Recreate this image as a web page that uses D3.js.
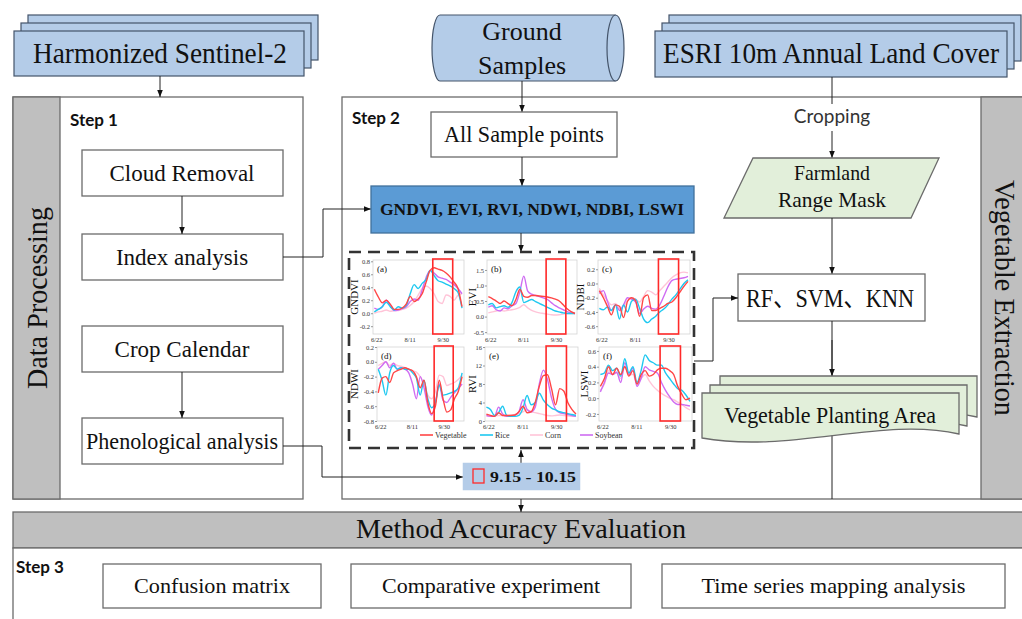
<html>
<head>
<script src="https://d3js.org/d3.v7.min.js"></script>
<style>
body { margin: 0; background: #fff; }
svg text { font-family: "Liberation Serif", "Times New Roman", "Noto Sans CJK SC", serif; fill: #111; }
svg text.sans { font-family: Lato, "Open Sans", sans-serif; }
.step { font-weight: bold; font-size: 17px; }
</style>
</head>
<body>
<svg id="chart" width="1022" height="619"></svg>
<script>
// sample dates (day of year), every 6 days from 6/19 to 10/29
const dates = [170,176,182,188,194,200,206,212,218,224,230,236,242,248,254,260,266,272,278,284,290,296,302];
const tickDates = [173, 223, 273];
const tickLabels = ["6/22", "8/11", "9/30"];
const windowDays = [258, 288]; // 9.15 - 10.15
const crops = ["Vegetable", "Rice", "Corn", "Soybean"];

// series in crop order: Vegetable, Rice, Corn, Soybean
const gndvi = [
  [0.37,0.25,0.16,0.20,0.14,0.06,0.06,0.08,0.14,0.26,0.18,0.22,0.30,0.48,0.66,0.70,0.68,0.66,0.62,0.56,0.48,0.38,0.10],
  [0.02,0.06,0.10,0.17,0.10,0.05,0.10,0.08,0.12,0.30,0.44,0.38,0.46,0.52,0.66,0.58,0.50,0.48,0.45,0.42,0.38,0.32,0.08],
  [0.00,0.02,0.03,0.05,0.03,0.04,0.04,0.06,0.08,0.12,0.18,0.28,0.38,0.42,0.38,0.30,0.18,0.15,0.28,0.26,0.20,0.28,0.30],
  [0.08,0.06,0.10,0.20,0.12,0.04,0.05,0.07,0.10,0.18,0.22,0.20,0.36,0.55,0.66,0.62,0.56,0.54,0.52,0.48,0.44,0.38,0.30]
];
const evi = [
  [0.64,0.58,0.50,0.42,0.50,0.42,0.35,0.55,0.88,0.65,0.62,0.68,0.68,0.66,0.65,0.63,0.60,0.56,0.50,0.38,0.25,0.16,0.10],
  [0.38,0.42,0.28,0.32,0.35,0.30,0.45,0.80,0.95,0.45,0.50,0.55,0.48,0.42,0.36,0.30,0.24,0.18,0.15,0.12,0.10,0.10,0.10],
  [0.12,0.15,0.18,0.20,0.18,0.20,0.22,0.25,0.30,0.38,0.28,0.20,0.15,0.12,0.10,0.08,0.06,0.05,0.06,0.08,0.10,0.10,0.10],
  [0.30,0.35,0.22,0.18,0.28,0.25,0.35,0.42,0.80,1.30,0.82,0.72,0.68,0.64,0.60,0.55,0.45,0.35,0.28,0.22,0.16,0.12,0.10]
];
const ndbi = [
  [-0.10,-0.20,-0.32,-0.44,-0.30,-0.32,-0.48,-0.25,-0.20,-0.24,-0.46,-0.20,-0.16,-0.38,-0.38,-0.35,-0.32,-0.28,-0.26,-0.20,-0.12,-0.04,0.03],
  [-0.35,-0.37,-0.33,-0.38,-0.30,-0.50,-0.30,-0.40,-0.25,-0.22,-0.35,-0.50,-0.55,-0.50,-0.46,-0.40,-0.36,-0.30,-0.22,-0.16,-0.08,0.00,0.05],
  [-0.07,-0.16,-0.24,-0.30,-0.28,-0.36,-0.32,-0.24,-0.20,-0.22,-0.26,-0.18,-0.10,-0.12,-0.16,-0.10,-0.04,0.02,0.08,0.12,0.15,0.16,0.15],
  [-0.14,-0.10,-0.25,-0.38,-0.30,-0.38,-0.30,-0.20,-0.22,-0.26,-0.42,-0.36,-0.32,-0.35,-0.36,-0.30,-0.18,-0.05,0.04,0.06,0.07,0.08,0.10]
];
const ndwi = [
  [-0.42,-0.22,-0.20,-0.28,-0.15,-0.12,-0.10,-0.08,-0.10,-0.12,-0.20,-0.35,-0.25,-0.55,-0.70,-0.60,-0.25,-0.50,-0.68,-0.65,-0.50,-0.40,-0.20],
  [-0.10,-0.25,-0.45,-0.15,-0.05,-0.10,-0.08,-0.10,-0.10,-0.15,-0.22,-0.45,-0.25,-0.50,-0.62,-0.55,-0.32,-0.45,-0.44,-0.42,-0.40,-0.35,-0.15],
  [-0.05,-0.02,0.00,-0.05,-0.02,-0.05,-0.06,-0.08,-0.10,-0.12,-0.14,-0.20,-0.30,-0.45,-0.50,-0.40,-0.18,-0.20,-0.32,-0.30,-0.28,-0.24,-0.18],
  [-0.10,-0.05,0.00,-0.08,-0.02,-0.10,-0.08,-0.10,-0.15,-0.30,-0.50,-0.20,-0.35,-0.60,-0.72,-0.55,-0.30,-0.52,-0.55,-0.48,-0.42,-0.36,-0.30]
];
const rvi = [
  [1.5,1.2,1.0,1.8,1.2,1.2,1.2,1.3,2.0,3.2,1.8,2.0,4.0,7.5,9.8,10.0,7.0,3.5,7.0,6.5,4.0,2.5,1.5],
  [3.0,2.5,1.2,1.8,3.2,1.2,1.0,1.0,1.2,2.8,5.5,3.5,4.0,6.0,4.5,3.5,2.8,2.4,2.0,1.8,1.6,1.4,1.2],
  [1.0,1.0,1.1,1.2,1.2,1.2,1.3,1.4,1.6,2.0,2.4,2.0,1.8,1.6,1.4,1.2,1.1,1.2,1.3,1.2,1.1,1.0,1.0],
  [1.2,1.0,1.0,3.0,1.5,1.0,1.0,1.2,2.0,4.6,2.5,2.0,3.0,8.0,11.0,9.0,5.0,2.5,1.8,1.6,1.4,1.2,1.0]
];
const lswi = [
  [0.15,0.25,0.40,0.30,0.38,0.30,0.40,0.28,0.35,0.18,0.30,0.35,0.28,0.30,0.36,0.38,0.38,0.35,0.30,0.15,0.05,-0.02,0.00],
  [0.30,0.32,0.42,0.35,0.38,0.28,0.50,0.32,0.40,0.20,0.35,0.55,0.48,0.45,0.42,0.42,0.32,0.25,0.18,0.12,0.10,0.04,-0.04],
  [0.10,0.18,0.35,0.30,0.32,0.25,0.40,0.30,0.30,0.18,0.25,0.30,0.22,0.15,0.10,0.06,0.03,0.00,-0.02,-0.05,-0.08,-0.12,-0.15],
  [0.08,0.20,0.32,0.30,0.33,0.20,0.45,0.30,0.38,0.15,0.25,0.40,0.36,0.34,0.32,0.20,0.10,0.02,-0.05,-0.08,-0.08,-0.09,-0.10]
];

const gndviTicks = [-0.2, 0, 0.2, 0.4, 0.6, 0.8];
const eviTicks = [-0.5, 0, 0.5, 1.0, 1.5];
const ndbiTicks = [-0.6, -0.4, -0.2, 0, 0.2];
const ndwiTicks = [-0.8, -0.6, -0.4, -0.2, 0, 0.2];
const rviTicks = [0, 4, 8, 12, 16];
const lswiTicks = [-0.2, 0, 0.2, 0.4, 0.6];

const cropColors = ["#ff4646", "#1ec8f0", "#ffc4d8", "#cf6cf2"];
const drawOrder = [2, 3, 1, 0];

const svg = d3.select("#chart");
const defs = svg.append("defs");
defs.append("marker").attr("id", "arr")
  .attr("viewBox", "0 0 10 10").attr("refX", 10).attr("refY", 5)
  .attr("markerWidth", 7).attr("markerHeight", 7).attr("orient", "auto")
  .append("path").attr("d", "M0,1L10,5L0,9z").attr("fill", "#111");

const BLUE = "#b4cce8", GRAY = "#bfbfbf", GREEN = "#e2efda", EDGE = "#6b6b6b";

function rect(x, y, w, h, fill, stroke, sw) {
  return svg.append("rect").attr("x", x).attr("y", y).attr("width", w).attr("height", h)
    .attr("fill", fill).attr("stroke", stroke || EDGE).attr("stroke-width", sw || 1.3);
}
function label(x, y, str, size, len) {
  const t = svg.append("text").attr("x", x).attr("y", y).attr("text-anchor", "middle")
    .attr("font-size", size).text(str);
  if (len) t.attr("textLength", len).attr("lengthAdjust", "spacingAndGlyphs");
  return t;
}
function path(pts, arrow) {
  const p = svg.append("path").attr("d", d3.line()(pts)).attr("fill", "none")
    .attr("stroke", "#222").attr("stroke-width", 1);
  if (arrow) p.attr("marker-end", "url(#arr)");
  return p;
}
function stack(x, y, w, h, fill) {
  for (let i = 2; i >= 0; i--) rect(x + 7 * i, y - 8 * i, w, h, fill, "#44546a", 1.2);
}

// ---------- top sources ----------
stack(14, 31, 290, 45, BLUE);
label(160, 63, "Harmonized Sentinel-2", 29, 254);
stack(655, 31, 352, 46, BLUE);
label(831, 63, "ESRI 10m Annual Land Cover", 29, 336);

// ground samples cylinder
{
  const x0 = 432, x1 = 624, y0 = 15, y1 = 81, rx = 8.5, ry = (y1 - y0) / 2;
  svg.append("path")
    .attr("d", `M${x0 + 8},${y0} L${x1 - rx},${y0} A${rx},${ry} 0 0 1 ${x1 - rx},${y1} L${x0 + 8},${y1} A8,${ry} 0 0 1 ${x0 + 8},${y0} Z`)
    .attr("fill", BLUE).attr("stroke", "#44546a").attr("stroke-width", 1.2);
  svg.append("path")
    .attr("d", `M${x1 - rx},${y0} A${rx},${ry} 0 0 0 ${x1 - rx},${y1}`)
    .attr("fill", "none").attr("stroke", "#44546a").attr("stroke-width", 1.2);
  label(522, 40, "Ground", 26);
  label(522, 74, "Samples", 26);
}

// ---------- step frames ----------
rect(13, 97, 290, 402, "#fff");
rect(13, 97, 47, 402, GRAY);
rect(342, 97, 700, 402, "#fff");
rect(981, 97, 60, 402, GRAY);
rect(13, 512, 1030, 36, GRAY);
rect(13, 548, 1030, 90, "#fff");

svg.append("text").attr("transform", "translate(47,298) rotate(-90)")
  .attr("text-anchor", "middle").attr("font-size", 30).attr("textLength", 182)
  .attr("lengthAdjust", "spacingAndGlyphs").text("Data Processing");
svg.append("text").attr("transform", "translate(995,298) rotate(90)")
  .attr("text-anchor", "middle").attr("font-size", 29).attr("textLength", 236)
  .attr("lengthAdjust", "spacingAndGlyphs").text("Vegetable Extraction");

svg.append("text").attr("class", "sans step").attr("x", 70).attr("y", 126).text("Step 1");
svg.append("text").attr("class", "sans step").attr("x", 352).attr("y", 124).text("Step 2");
svg.append("text").attr("class", "sans step").attr("x", 16).attr("y", 573).text("Step 3");

// ---------- step 1 ----------
const step1 = ["Cloud Removal", "Index analysis", "Crop Calendar", "Phenological analysis"];
const step1Y = [150, 234, 326, 418];
step1.forEach((s, i) => {
  rect(82, step1Y[i], 201, 46, "#fff");
  label(182, step1Y[i] + 31, s, 23, s.length > 15 ? 192 : null);
});
path([[182, 196], [182, 234]], true);
path([[182, 372], [182, 418]], true);
path([[283, 257], [323, 257], [323, 209], [371, 209]], true);
path([[283, 446], [322, 446], [322, 477], [463, 477]], true);

// ---------- step 2 ----------
path([[160, 76], [160, 97]], true);
path([[522, 81], [522, 112]], true);
rect(431, 112, 186, 45, "#fff");
label(524, 142, "All Sample points", 23, 160);
path([[522, 157], [522, 186]], true);
rect(371, 186, 323, 47, "#5b9bd5", "#41719c");
label(532, 215, "GNDVI, EVI, RVI, NDWI, NDBI, LSWI", 16, 304).attr("font-weight", "bold");
path([[521, 233], [521, 252]], true);

// cropping / right column
path([[832, 77], [832, 104]]);
svg.append("text").attr("class", "sans").attr("x", 832).attr("y", 123).attr("text-anchor", "middle")
  .attr("font-size", 19).style("fill", "#333").text("Cropping");
path([[832, 131], [832, 158]], true);
svg.append("path").attr("d", "M753,158L939,158L911,218L724,218Z")
  .attr("fill", GREEN).attr("stroke", EDGE).attr("stroke-width", 1.3);
label(832, 180, "Farmland", 22, 76);
label(832, 207, "Range Mask", 22, 108);
path([[832, 218], [832, 274]], true);
rect(738, 274, 187, 47, "#fff");
label(830, 307, "RF、SVM、KNN", 26, 168);
path([[832, 321], [832, 499]]);
path([[832, 340], [832, 376]], true);

// multi-document shape
function doc(x, y, w, h) {
  const b = y + h;
  return `M${x},${y}L${x + w},${y}L${x + w},${b - 4}C${x + w * 0.7},${b - 22} ${x + w * 0.35},${b + 16} ${x},${b}Z`;
}
[[720, 376], [710, 385], [702, 393]].forEach(([x, y]) => {
  svg.append("path").attr("d", doc(x, y, 257, 45)).attr("fill", GREEN)
    .attr("stroke", EDGE).attr("stroke-width", 1.3);
});
label(830, 423, "Vegetable Planting Area", 24, 212);

// dashed panel box
svg.append("rect").attr("x", 349).attr("y", 252).attr("width", 345).attr("height", 196)
  .attr("fill", "#fff").attr("stroke", "#333").attr("stroke-width", 2.6)
  .attr("stroke-dasharray", "12,7");
path([[694, 361], [713, 361], [713, 298], [738, 298]], true);

// ---------- index panels ----------
const panels = [
  { name: "GNDVI", tag: "(a)", data: gndvi, ticks: gndviTicks, dom: [-0.32, 0.82], x0: 373, x1: 464, y0: 260, y1: 334, tx: 358 },
  { name: "EVI",   tag: "(b)", data: evi,   ticks: eviTicks,   dom: [-0.56, 1.82], x0: 487, x1: 577, y0: 260, y1: 334, tx: 476 },
  { name: "NDBI",  tag: "(c)", data: ndbi,  ticks: ndbiTicks,  dom: [-0.71, 0.33], x0: 598, x1: 690, y0: 260, y1: 334, tx: 584 },
  { name: "NDWI",  tag: "(d)", data: ndwi,  ticks: ndwiTicks,  dom: [-0.8, 0.2],   x0: 377, x1: 464, y0: 347, y1: 421, tx: 358 },
  { name: "RVI",   tag: "(e)", data: rvi,   ticks: rviTicks,   dom: [0, 16],       x0: 485, x1: 578, y0: 347, y1: 421, tx: 476 },
  { name: "LSWI",  tag: "(f)", data: lswi,  ticks: lswiTicks,  dom: [-0.29, 0.65], x0: 599, x1: 692, y0: 347, y1: 421, tx: 588 }
];

panels.forEach(p => {
  const g = svg.append("g");
  const x = d3.scaleLinear().domain([168, 305]).range([p.x0, p.x1]);
  const y = d3.scaleLinear().domain(p.dom).range([p.y1, p.y0]);
  g.append("rect").attr("x", p.x0).attr("y", p.y0).attr("width", p.x1 - p.x0).attr("height", p.y1 - p.y0)
    .attr("fill", "#fff").attr("stroke", "#d4d4d4").attr("stroke-width", 0.8);

  const fmt = p.name === "RVI" ? d3.format("d") : (v => v.toFixed(1));
  const ya = g.append("g").attr("transform", `translate(${p.x0},0)`)
    .call(d3.axisLeft(y).tickValues(p.ticks).tickSize(2).tickPadding(1).tickFormat(fmt));
  ya.select(".domain").remove();
  ya.selectAll("line").attr("stroke", "#999");
  ya.selectAll("text").attr("font-size", 6.5).style("fill", "#333");

  const xa = g.append("g").attr("transform", `translate(0,${p.y1})`)
    .call(d3.axisBottom(x).tickValues(tickDates).tickSize(0).tickPadding(3)
      .tickFormat((d, i) => tickLabels[i]));
  xa.select(".domain").remove();
  xa.selectAll("text").attr("font-size", 6.5).style("fill", "#333");

  const line = d3.line().x((d, i) => x(dates[i])).y(d => y(d)).curve(d3.curveMonotoneX);
  drawOrder.forEach(ci => {
    g.append("path").datum(p.data[ci]).attr("d", line).attr("fill", "none")
      .attr("stroke", cropColors[ci]).attr("stroke-width", 1.4);
  });

  g.append("rect").attr("x", x(windowDays[0])).attr("y", p.y0 - 1)
    .attr("width", x(windowDays[1]) - x(windowDays[0])).attr("height", p.y1 - p.y0 + 1)
    .attr("fill", "none").attr("stroke", "#ff2a2a").attr("stroke-width", 1.6);

  g.append("text").attr("x", p.x0 + 4).attr("y", p.y0 + 12).attr("font-size", 9).text(p.tag);
  g.append("text").attr("transform", `translate(${p.tx},${(p.y0 + p.y1) / 2}) rotate(-90)`)
    .attr("text-anchor", "middle").attr("font-size", 11).text(p.name);
});

// legend
const legendX = [420, 480, 530, 580];
crops.forEach((c, i) => {
  svg.append("line").attr("x1", legendX[i]).attr("x2", legendX[i] + 13).attr("y1", 435).attr("y2", 435)
    .attr("stroke", cropColors[i]).attr("stroke-width", 1.6);
  svg.append("text").attr("x", legendX[i] + 15).attr("y", 438).attr("font-size", 8).style("fill", "#333").text(c);
});

// time window box
path([[521, 463], [521, 450]], true);
rect(463, 463, 117, 27, "#b4cce8", "#b4cce8", 0.5);
svg.append("rect").attr("x", 473).attr("y", 469).attr("width", 11).attr("height", 14)
  .attr("fill", "none").attr("stroke", "#ff2a2a").attr("stroke-width", 1.3);
svg.append("text").attr("x", 490).attr("y", 482).attr("font-size", 15).attr("font-weight", "bold")
  .attr("textLength", 86).attr("lengthAdjust", "spacingAndGlyphs").text("9.15 - 10.15");

// ---------- step 3 ----------
path([[521, 499], [521, 512]], true);
label(521, 538, "Method Accuracy Evaluation", 28, 330);
const step3 = ["Confusion matrix", "Comparative experiment", "Time series mapping analysis"];
const step3X = [103, 351, 662];
const step3W = [218, 280, 343];
const step3L = [156, 218, 264];
step3.forEach((s, i) => {
  rect(step3X[i], 564, step3W[i], 44, "#fff");
  label(step3X[i] + step3W[i] / 2, 593, s, 22, step3L[i]);
});
</script>
</body>
</html>
